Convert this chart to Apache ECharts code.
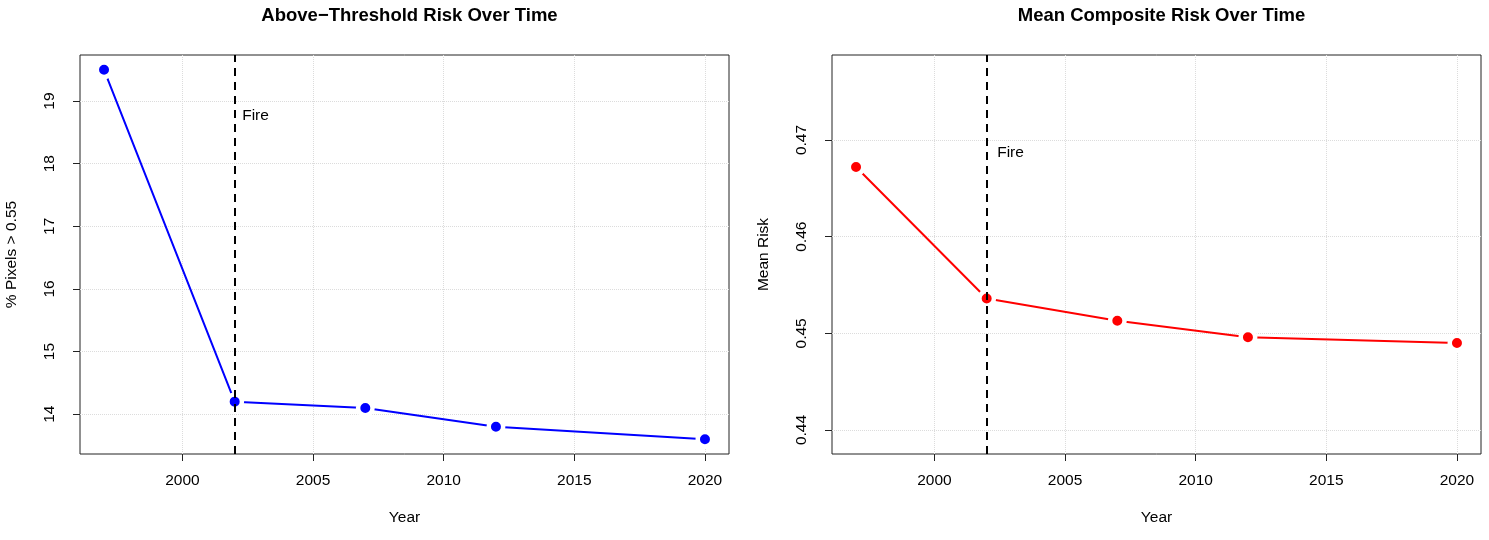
<!DOCTYPE html>
<html>
<head>
<meta charset="UTF-8">
<style>
html, body { margin: 0; padding: 0; background: #fff; }
#main { width: 1489px; height: 540px; }
</style>
</head>
<body>
<div id="main"></div>
<script src="https://cdn.jsdelivr.net/npm/echarts@6/dist/echarts.min.js"></script>
<script>
var years = [1997, 2002, 2007, 2012, 2020];
var pctAbove = [19.5, 14.2, 14.1, 13.8, 13.6];
var meanRisk = [0.4672, 0.4536, 0.4513, 0.4496, 0.4490];
var xTicks = [2000, 2005, 2010, 2015, 2020];
var pctTicks = [14, 15, 16, 17, 18, 19];
var riskTicks = [0.44, 0.45, 0.46, 0.47];
var fireYear = 2002;

var FONT = 'Liberation Sans, Arial, Helvetica, sans-serif';

function pairs(xs, ys) {
	return xs.map(function (x, i) { return [x, ys[i]]; });
}

var panels = [
	{
		title: 'Above\u2212Threshold Risk Over Time',
		yName: '% Pixels > 0.55',
		left: 80, color: '#0000ff',
		values: pctAbove, yTicks: pctTicks,
		yMin: 13.364, yMax: 19.736, fireY: 18.77, fireGap: 7,
		fmt: function (v) { return String(v); }
	},
	{
		title: 'Mean Composite Risk Over Time',
		yName: 'Mean Risk',
		left: 832, color: '#ff0000',
		values: meanRisk, yTicks: riskTicks,
		yMin: 0.43752, yMax: 0.47879, fireY: 0.4687, fireGap: 10,
		fmt: function (v) { return v.toFixed(2); }
	}
];

var option = {
	animation: false,
	backgroundColor: '#fff',
	textStyle: { fontFamily: FONT },
	title: [], grid: [], xAxis: [], yAxis: [], series: []
};

panels.forEach(function (p, i) {
	option.title.push({
		text: p.title,
		left: p.left + 324.5, top: 1, textAlign: 'center',
		textStyle: { fontFamily: FONT, fontSize: 18.5, fontWeight: 'bold', color: '#000' }
	});
	option.grid.push({
		left: p.left, top: 55, width: 649, height: 399,
		show: true, borderColor: '#222', borderWidth: 1, backgroundColor: 'transparent'
	});
	option.xAxis.push({
		type: 'value', gridIndex: i, min: 1996.08, max: 2020.92,
		axisLine: { show: false, onZero: false },
		splitLine: { show: false },
		axisTick: { show: true, customValues: xTicks, length: 7, lineStyle: { color: '#222' } },
		axisLabel: { customValues: xTicks, color: '#000', fontSize: 15.5, margin: 19, fontFamily: FONT,
			formatter: function (v) { return String(v); } },
		name: 'Year', nameLocation: 'middle', nameGap: 56,
		nameTextStyle: { color: '#000', fontSize: 15.5, fontFamily: FONT }
	});
	option.yAxis.push({
		type: 'value', gridIndex: i, min: p.yMin, max: p.yMax,
		axisLine: { show: false, onZero: false },
		splitLine: { show: false },
		axisTick: { show: true, customValues: p.yTicks, length: 7, lineStyle: { color: '#222' } },
		axisLabel: { customValues: p.yTicks, rotate: 90, color: '#000', fontSize: 15.5, margin: 22,
			fontFamily: FONT, formatter: p.fmt },
		name: p.yName, nameLocation: 'middle', nameGap: 60, nameRotate: 90,
		nameTextStyle: { color: '#000', fontSize: 15.5, fontFamily: FONT }
	});
	// dotted grid at the tick positions
	option.series.push({
		type: 'line', xAxisIndex: i, yAxisIndex: i, data: [], z: 1, silent: true,
		markLine: {
			z: 1, silent: true, symbol: ['none', 'none'], label: { show: false },
			lineStyle: { color: '#dcdcdc', type: 'dotted', width: 1 },
			data: xTicks.map(function (v) { return { xAxis: v }; })
				.concat(p.yTicks.map(function (v) { return { yAxis: v }; }))
		}
	});
	option.series.push({
		type: 'line', xAxisIndex: i, yAxisIndex: i, z: 3,
		data: pairs(years, p.values),
		symbol: 'circle', symbolSize: 14.5,
		lineStyle: { color: p.color, width: 2 },
		itemStyle: { color: p.color, borderColor: '#fff', borderWidth: 4.5 }
	});
	// fire line + label
	option.series.push({
		type: 'line', xAxisIndex: i, yAxisIndex: i, data: [], z: 6, silent: true,
		markLine: {
			z: 6, silent: true, symbol: ['none', 'none'], label: { show: false },
			lineStyle: { color: '#000', type: [8, 6], width: 2 },
			data: [{ xAxis: fireYear }]
		},
		markPoint: {
			z: 6, symbol: 'circle', symbolSize: 1, itemStyle: { color: 'transparent' },
			label: { show: true, position: 'right', distance: p.fireGap, formatter: 'Fire',
				color: '#000', fontSize: 15.5, fontFamily: FONT },
			data: [{ coord: [fireYear, p.fireY] }]
		}
	});
});

var chart = echarts.init(document.getElementById('main'));
chart.setOption(option);
</script>
</body>
</html>
